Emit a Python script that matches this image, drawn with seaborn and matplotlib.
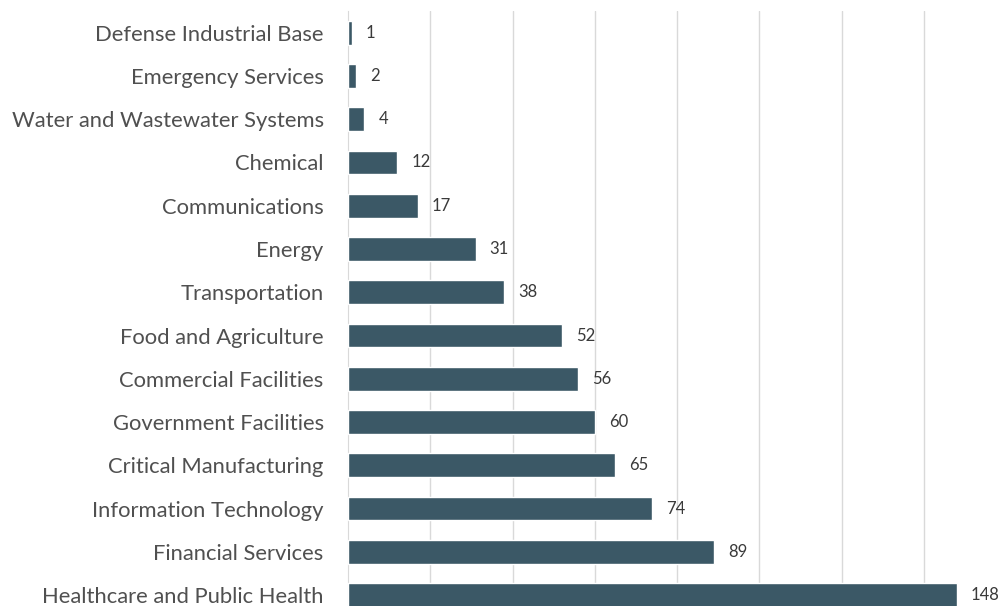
import pandas as pd
import matplotlib.pyplot as plt
import seaborn as sns

sectors = ['Defense Industrial Base', 'Emergency Services', 'Water and Wastewater Systems',
           'Chemical', 'Communications', 'Energy', 'Transportation', 'Food and Agriculture',
           'Commercial Facilities', 'Government Facilities', 'Critical Manufacturing',
           'Information Technology', 'Financial Services', 'Healthcare and Public Health']
counts = [1, 2, 4, 12, 17, 31, 38, 52, 56, 60, 65, 74, 89, 148]

df = pd.DataFrame({'sector': sectors, 'count': counts})

sns.set_style('white')
plt.rcParams['font.family'] = ['Lato', 'DejaVu Sans']

fig = plt.figure(figsize=(10.03, 6.06), dpi=100)
ax = fig.add_axes([0.347, -0.0177, 0.653, 0.9995])

sns.barplot(data=df, x='count', y='sector', color='#3b5866', width=0.55,
            saturation=1, ax=ax, zorder=3)

ax.bar_label(ax.containers[0], padding=10, fontsize=12, color='#3a3a3a')

ax.set_xlim(0, 159.2)
ax.set_xticks(range(20, 160, 20))
ax.xaxis.grid(True, color='#d9d9d9', linewidth=1)
ax.set_axisbelow(True)
ax.set_xlabel('')
ax.set_ylabel('')
ax.tick_params(axis='x', bottom=False, labelbottom=False)
ax.tick_params(axis='y', left=False, pad=14, labelsize=15.8, labelcolor='#505050')

for side in ['top', 'right', 'bottom']:
    ax.spines[side].set_visible(False)
ax.spines['left'].set_color('#d9d9d9')

fig.savefig('out.png', dpi=100)
